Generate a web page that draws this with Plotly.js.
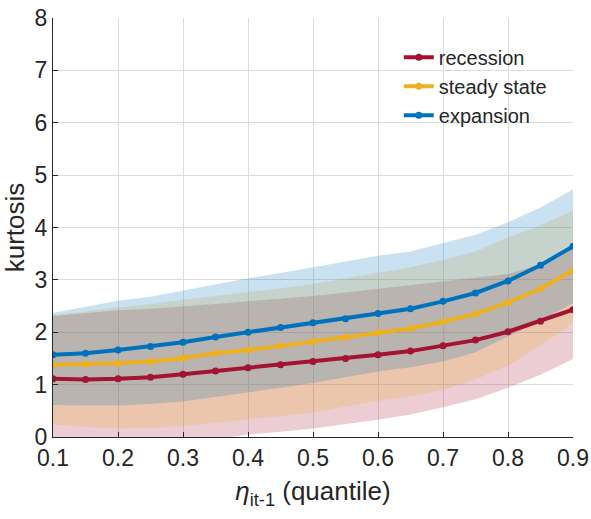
<!DOCTYPE html>
<html>
<head>
<meta charset="utf-8">
<script src="https://cdn.plot.ly/plotly-3.0.1.min.js"></script>
<style>
  html, body { margin: 0; padding: 0; background: #fff; }
  #chart { width: 591px; height: 519px; }
</style>
</head>
<body>
<div id="chart"></div>
<script>
// Quantile grid of the lagged shock
const quantiles = [0.1, 0.15, 0.2, 0.25, 0.3, 0.35, 0.4, 0.45, 0.5, 0.55, 0.6, 0.65, 0.7, 0.75, 0.8, 0.85, 0.9];

// Kurtosis point estimates
const recessionMean  = [1.11, 1.10, 1.11, 1.14, 1.20, 1.26, 1.32, 1.38, 1.44, 1.50, 1.57, 1.64, 1.74, 1.85, 2.01, 2.21, 2.43];
const steadyMean     = [1.38, 1.39, 1.41, 1.44, 1.51, 1.60, 1.66, 1.74, 1.82, 1.90, 1.99, 2.07, 2.20, 2.35, 2.57, 2.83, 3.18];
const expansionMean  = [1.57, 1.60, 1.66, 1.73, 1.81, 1.91, 2.00, 2.09, 2.18, 2.26, 2.36, 2.45, 2.59, 2.75, 2.98, 3.28, 3.64];

// Confidence bands (upper / lower)
const recessionUpper = [2.31, 2.37, 2.42, 2.45, 2.49, 2.54, 2.59, 2.64, 2.69, 2.76, 2.83, 2.90, 2.96, 3.03, 3.11, 3.30, 3.60];
const recessionLower = [-0.15, -0.17, -0.18, -0.16, -0.12, -0.05, 0.05, 0.10, 0.16, 0.24, 0.33, 0.43, 0.57, 0.72, 0.94, 1.19, 1.49];
const steadyUpper    = [2.33, 2.40, 2.46, 2.54, 2.62, 2.69, 2.76, 2.84, 2.92, 3.03, 3.13, 3.24, 3.38, 3.54, 3.81, 4.04, 4.33];
const steadyLower    = [0.24, 0.19, 0.16, 0.17, 0.21, 0.27, 0.33, 0.40, 0.47, 0.58, 0.69, 0.78, 0.90, 1.10, 1.36, 1.75, 2.17];
const expansionUpper = [2.37, 2.48, 2.60, 2.68, 2.80, 2.92, 3.03, 3.13, 3.24, 3.35, 3.46, 3.54, 3.70, 3.86, 4.10, 4.38, 4.73];
const expansionLower = [0.61, 0.60, 0.60, 0.63, 0.68, 0.76, 0.85, 0.94, 1.03, 1.14, 1.25, 1.33, 1.44, 1.62, 1.92, 2.22, 2.56];

const xTicks = [0.1, 0.2, 0.3, 0.4, 0.5, 0.6, 0.7, 0.8, 0.9];
const xTickText = ['0.1', '0.2', '0.3', '0.4', '0.5', '0.6', '0.7', '0.8', '0.9'];
const yTicks = [0, 1, 2, 3, 4, 5, 6, 7, 8];

const series = [
  { name: 'recession',    mean: recessionMean, upper: recessionUpper, lower: recessionLower, color: '#A2142F', rgb: '162,20,47' },
  { name: 'steady state', mean: steadyMean,    upper: steadyUpper,    lower: steadyLower,    color: '#EDB120', rgb: '237,177,32' },
  { name: 'expansion',    mean: expansionMean, upper: expansionUpper, lower: expansionLower, color: '#0072BD', rgb: '0,114,189' }
];

const traces = [];

// Shaded bands: closed polygons upper -> reversed lower
series.forEach(s => {
  traces.push({
    x: quantiles.concat(quantiles.slice().reverse()),
    y: s.upper.concat(s.lower.slice().reverse()),
    type: 'scatter',
    mode: 'lines',
    fill: 'toself',
    fillcolor: 'rgba(' + s.rgb + ',0.21)',
    line: { width: 0, color: 'rgba(0,0,0,0)' },
    hoverinfo: 'skip',
    showlegend: false
  });
});

// Point-estimate lines
series.forEach(s => {
  traces.push({
    x: quantiles,
    y: s.mean,
    type: 'scatter',
    mode: 'lines+markers',
    name: s.name,
    line: { color: s.color, width: 4 },
    marker: { color: s.color, size: 7 }
  });
});

const tickFont = { family: 'Liberation Sans, Arial, sans-serif', size: 23, color: '#262626' };

const layout = {
  width: 591,
  height: 519,
  margin: { l: 53, r: 18, t: 18, b: 82 },
  paper_bgcolor: '#ffffff',
  plot_bgcolor: '#ffffff',
  showlegend: true,
  legend: {
    x: 0.665, y: 0.953, xanchor: 'left', yanchor: 'top',
    bgcolor: 'rgba(255,255,255,0)',
    borderwidth: 0,
    font: { family: 'Liberation Sans, Arial, sans-serif', size: 20, color: '#262626' },
    itemwidth: 30,
    tracegroupgap: 0
  },
  xaxis: {
    range: [0.1, 0.9],
    tickvals: xTicks,
    ticktext: xTickText,
    ticks: 'inside',
    ticklen: 5,
    tickcolor: '#262626',
    showline: true,
    linecolor: '#262626',
    linewidth: 1,
    mirror: false,
    showgrid: true,
    gridcolor: '#dcdcdc',
    gridwidth: 1,
    zeroline: false,
    tickfont: tickFont,
    title: {
      text: '<i>η</i><sub>it-1</sub> (quantile)',
      font: { family: 'Liberation Sans, Arial, sans-serif', size: 26, color: '#262626' },
      standoff: 12
    }
  },
  yaxis: {
    range: [0, 8],
    tickvals: yTicks,
    ticks: 'inside',
    ticklen: 5,
    tickcolor: '#262626',
    showline: true,
    linecolor: '#262626',
    linewidth: 1,
    mirror: false,
    showgrid: true,
    gridcolor: '#dcdcdc',
    gridwidth: 1,
    zeroline: false,
    tickfont: tickFont,
    title: {
      text: 'kurtosis',
      font: { family: 'Liberation Sans, Arial, sans-serif', size: 26, color: '#262626' },
      standoff: 4
    }
  }
};

Plotly.newPlot('chart', traces, layout, { displayModeBar: false, staticPlot: true });
</script>
</body>
</html>
